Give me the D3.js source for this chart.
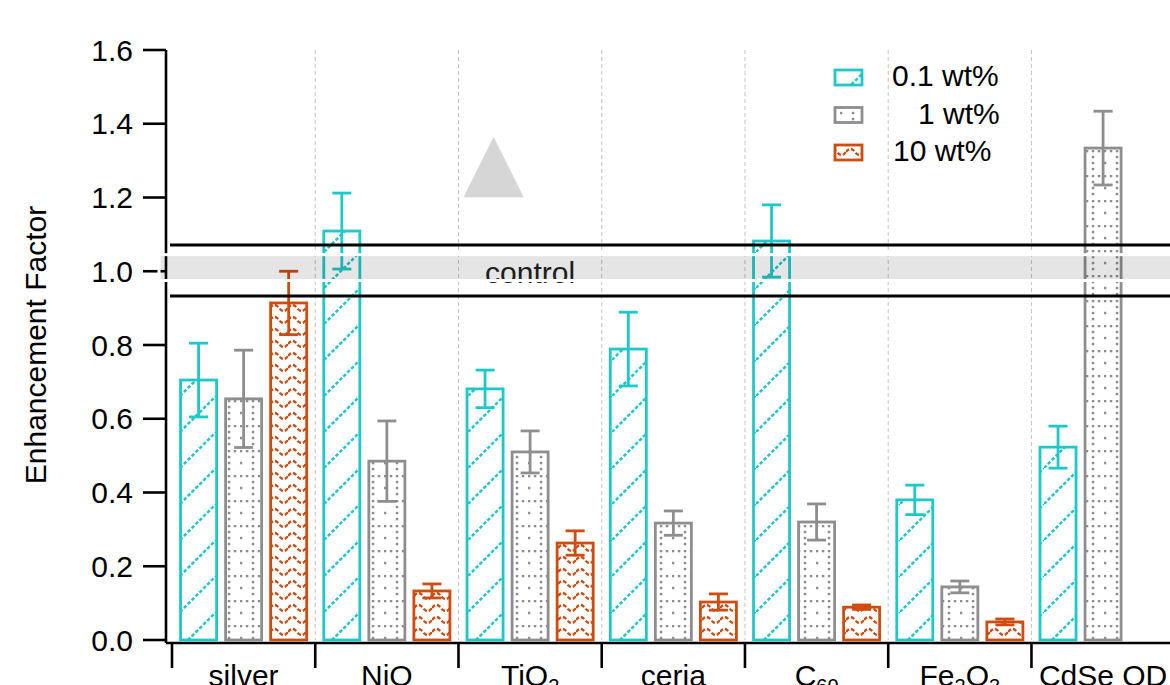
<!DOCTYPE html>
<html><head><meta charset="utf-8">
<script src="https://cdn.jsdelivr.net/npm/d3@7"></script>
<style>
html,body{margin:0;padding:0;background:#fff;}
svg{display:block;font-family:"Liberation Sans",Arial,sans-serif;}
</style></head>
<body><svg id="c" width="1170" height="685"></svg>
<script>
// ---- data ----
const categories = ["silver","NiO","TiO2","ceria","C60","Fe2O3","CdSe QD"];
const categoryLabels = [["silver"],["NiO"],["TiO","2"],["ceria"],["C","60"],["Fe","2","O","3"],["CdSe QD"]];
const seriesNames = ["0.1 wt%","1 wt%","10 wt%"];
const vals01 = [0.705, 1.109, 0.681, 0.789, 1.082, 0.380, 0.523];
const errs01 = [0.100, 0.103, 0.051, 0.100, 0.098, 0.040, 0.057];
const vals1  = [0.654, 0.485, 0.510, 0.317, 0.320, 0.144, 1.334];
const errs1  = [0.132, 0.109, 0.057, 0.033, 0.049, 0.016, 0.100];
const vals10 = [0.914, 0.133, 0.263, 0.103, 0.089, 0.049, null];
const errs10 = [0.086, 0.019, 0.033, 0.022, 0.006, 0.008, null];
const yTicks = [0.0,0.2,0.4,0.6,0.8,1.0,1.2,1.4,1.6];
const controlBand = [0.975, 1.045];
const controlLines = [0.933, 1.071];
const controlLabel = "control";

const colors = ["#1fc8c8","#8e8e8e","#cf4b0f"];
const patIds = ["patHatch","patDots","patWave"];

const svg = d3.select("#c");
const x = d3.scaleBand().domain(categories).range([172, 1174.7]).padding(0);
const x1 = d3.scaleBand().domain(seriesNames).range([0, x.step()]).paddingInner(0.2).paddingOuter(0.19);
const y = d3.scaleLinear().domain([0,1.6]).range([640,50]);

// ---- patterns ----
const defs = svg.append("defs");
const p0 = defs.append("pattern").attr("id",patIds[0]).attr("patternUnits","userSpaceOnUse")
  .attr("width",36).attr("height",36);
p0.append("line").attr("x1",0).attr("y1",36).attr("x2",36).attr("y2",0)
  .attr("stroke",colors[0]).attr("stroke-width",2.5).attr("stroke-dasharray","3.5,2");
const p1 = defs.append("pattern").attr("id",patIds[1]).attr("patternUnits","userSpaceOnUse")
  .attr("width",24).attr("height",25);
[[1,1],[7,1],[13,1],[19,1],[13,7],[13,13],[13,19],[1,13]].forEach(d=>{
  p1.append("rect").attr("x",d[0]-1.2).attr("y",d[1]-1.2).attr("width",2.5).attr("height",2.5).attr("fill",colors[1]);
});
const p2 = defs.append("pattern").attr("id",patIds[2]).attr("patternUnits","userSpaceOnUse")
  .attr("width",18).attr("height",12);
p2.append("path").attr("d","M0,8 Q4.5,2 9,8 T18,8").attr("fill","none")
  .attr("stroke",colors[2]).attr("stroke-width",2.4).attr("stroke-dasharray","4,2");

// ---- gridlines ----
svg.append("g").selectAll("line").data(categories.slice(1)).join("line")
  .attr("x1",d=>x(d)).attr("x2",d=>x(d)).attr("y1",y(1.6)).attr("y2",y(0))
  .attr("stroke","#c4c4c4").attr("stroke-width",1).attr("stroke-dasharray","4,3");

// ---- triangle annotation ----
const tri = {cat:"TiO2", f0:0.035, f1:0.455, yBase:1.201, yTop:1.364};
svg.append("path").attr("fill","#d6d6d6")
  .attr("d",`M${x(tri.cat)+tri.f0*x.step()},${y(tri.yBase)} L${x(tri.cat)+tri.f1*x.step()},${y(tri.yBase)} L${x(tri.cat)+(tri.f0+tri.f1)/2*x.step()},${y(tri.yTop)} Z`);

// ---- axes ----
const axG = svg.append("g").attr("stroke","#000").attr("stroke-width",2.6);
axG.append("line").attr("x1",166).attr("x2",166).attr("y1",y(1.6)).attr("y2",643);
axG.append("line").attr("x1",166).attr("x2",1170).attr("y1",643).attr("y2",643);
axG.selectAll(".yt").data(yTicks).join("line").attr("class","yt")
  .attr("x1",143).attr("x2",166).attr("y1",d=>y(d)).attr("y2",d=>y(d));
axG.selectAll(".xt").data(categories).join("line").attr("class","xt")
  .attr("x1",d=>x(d)).attr("x2",d=>x(d)).attr("y1",643).attr("y2",668);
svg.append("g").selectAll("text").data(yTicks).join("text")
  .attr("x",133).attr("y",d=>y(d)+10.5).attr("text-anchor","end")
  .attr("font-size",30).attr("fill","#000").text(d=>d.toFixed(1));
svg.append("text").attr("transform",`translate(46,${y(0.8)}) rotate(-90)`)
  .attr("text-anchor","middle").attr("font-size",30).attr("fill","#000").text("Enhancement Factor");
const xl = svg.append("g").selectAll("text").data(categories).join("text")
  .attr("x",d=>x(d)+x.step()/2).attr("y",686).attr("text-anchor","middle")
  .attr("font-size",30).attr("fill","#000");
xl.each(function(d,i){
  const t = d3.select(this);
  categoryLabels[i].forEach((part,j)=>{
    const sub = j%2===1;
    t.append("tspan").attr("font-size",sub?20:30).attr("dy",sub?7:(j>0?-7:0)).text(part);
  });
});

// ---- bars ----
const seriesVals = [vals01, vals1, vals10];
const seriesErrs = [errs01, errs1, errs10];
const bars = [];
categories.forEach((c,i)=>seriesNames.forEach((s,k)=>{
  if(seriesVals[k][i]!=null) bars.push({c,s,k,v:seriesVals[k][i],e:seriesErrs[k][i]});
}));
const bg = svg.append("g");
bg.selectAll("rect").data(bars).join("rect")
  .attr("x",d=>x(d.c)+x1(d.s)).attr("width",x1.bandwidth())
  .attr("y",d=>y(d.v)).attr("height",d=>y(0)-y(d.v))
  .attr("fill",d=>`url(#${patIds[d.k]})`).attr("stroke",d=>colors[d.k]).attr("stroke-width",2.8);
const eg = svg.append("g");
bars.forEach(d=>{
  const cx = x(d.c)+x1(d.s)+x1.bandwidth()/2;
  const g = eg.append("g").attr("stroke",colors[d.k]).attr("stroke-width",2.8);
  g.append("line").attr("x1",cx).attr("x2",cx).attr("y1",y(d.v+d.e)).attr("y2",y(d.v-d.e));
  [d.v+d.e,d.v-d.e].forEach(vv=>g.append("line").attr("x1",cx-9.5).attr("x2",cx+9.5).attr("y1",y(vv)).attr("y2",y(vv)));
});

// ---- control ----
svg.append("text").attr("x",x("TiO2")+x.step()/2).attr("y",y(0.967)).attr("text-anchor","middle")
  .attr("font-size",30).attr("fill","#222").text(controlLabel);
svg.append("rect").attr("x",159).attr("width",1020).attr("y",y(controlBand[1])).attr("height",y(controlBand[0])-y(controlBand[1]))
  .attr("fill","rgba(0,0,0,0.1)").attr("stroke","#fff").attr("stroke-width",3);
svg.append("g").selectAll("line").data(controlLines).join("line")
  .attr("x1",170).attr("x2",1170).attr("y1",d=>y(d)).attr("y2",d=>y(d))
  .attr("stroke","#000").attr("stroke-width",3);

// ---- legend ----
const legX = [892, 918, 893];
const lg = svg.append("g");
seriesNames.forEach((s,k)=>{
  const ry = 70 + k*37.5;
  lg.append("rect").attr("x",835).attr("y",ry).attr("width",27).attr("height",15)
    .attr("fill",`url(#${patIds[k]})`).attr("stroke",colors[k]).attr("stroke-width",2.8);
  lg.append("text").attr("x",legX[k]).attr("y",ry+16).attr("font-size",30).attr("fill","#000").text(s);
});
</script></body></html>
